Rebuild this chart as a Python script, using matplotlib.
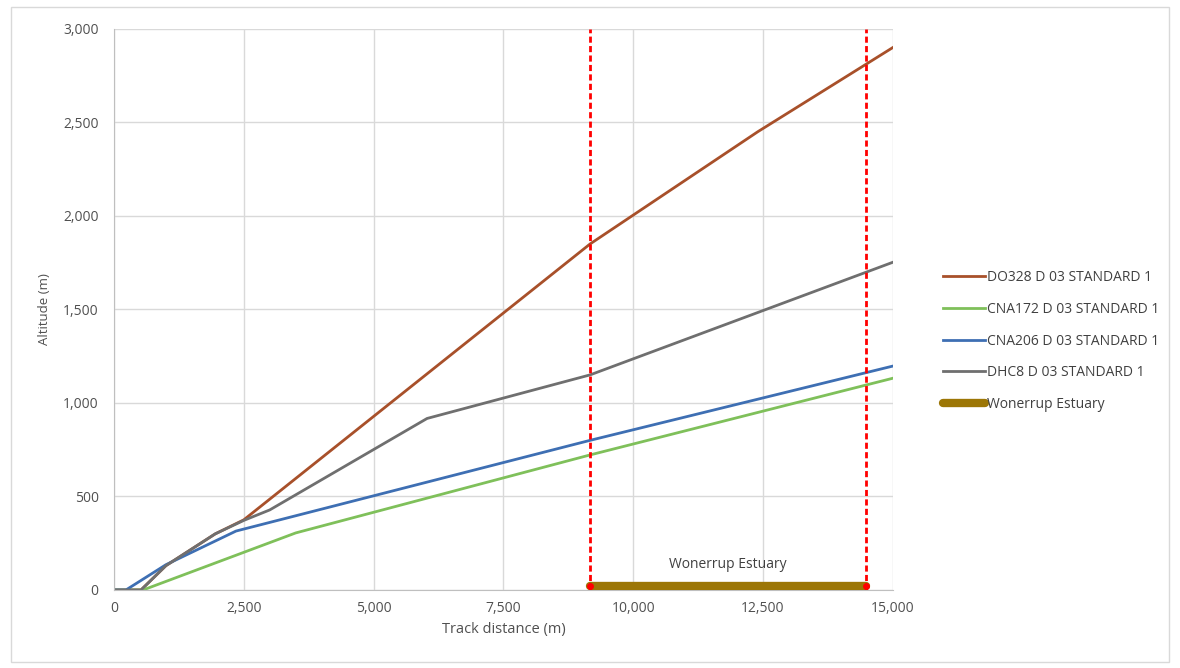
import matplotlib.pyplot as plt

plt.rcParams['font.family'] = ['Open Sans', 'DejaVu Sans']

# Climb profiles: track distance (m) vs altitude (m)
do328_x = [0, 520, 1000, 1950, 2500, 9170, 12400, 15000]
do328_y = [0, 0, 130, 300, 375, 1850, 2450, 2900]

cna172_x = [0, 560, 3500, 9170, 15000]
cna172_y = [0, 0, 305, 722, 1132]

cna206_x = [0, 230, 1000, 2350, 9170, 15000]
cna206_y = [0, 0, 135, 315, 800, 1197]

dhc8_x = [0, 520, 1000, 1950, 2500, 3000, 6030, 9170, 15000]
dhc8_y = [0, 0, 130, 300, 372, 428, 917, 1150, 1752]

# Estuary crossing along the track
estuary_x = [9170, 14480]
estuary_y = [20, 20]
estuary_label = 'Wonerrup Estuary'

xticks = [0, 2500, 5000, 7500, 10000, 12500, 15000]
yticks = [0, 500, 1000, 1500, 2000, 2500, 3000]

fig = plt.figure(figsize=(11.8, 6.68), dpi=100)
ax = fig.add_axes([0.0966, 0.1168, 0.66, 0.84])

# outer chart border
fig.patches.append(plt.Rectangle((0.009, 0.009), 0.982, 0.98, transform=fig.transFigure,
                                 fill=False, edgecolor='#d9d9d9', lw=1))

ax.plot(do328_x, do328_y, color='#a8502a', lw=2, label='DO328 D 03 STANDARD 1')
ax.plot(cna172_x, cna172_y, color='#7fc05a', lw=2, label='CNA172 D 03 STANDARD 1')
ax.plot(cna206_x, cna206_y, color='#3e6fb3', lw=2, label='CNA206 D 03 STANDARD 1')
ax.plot(dhc8_x, dhc8_y, color='#6f6f6f', lw=2, label='DHC8 D 03 STANDARD 1')
ax.plot(estuary_x, estuary_y, color='#9c7606', lw=6, solid_capstyle='round',
        label=estuary_label, zorder=4)

for x in estuary_x:
    ax.plot([x, x], [0, 3000], color='#ff0000', lw=2, ls=(0, (2.2, 1.2)), zorder=5)
    ax.plot(x, estuary_y[0], 'o', color='#ff0000', ms=4, zorder=6)

ax.text(sum(estuary_x) / 2, 135, estuary_label, ha='center', va='center',
        fontsize=10, color='#404040')

ax.set_xlim(0, 15000)
ax.set_ylim(0, 3000)
ax.set_xticks(xticks)
ax.set_yticks(yticks)
ax.set_xticklabels([f'{v:,}' for v in xticks])
ax.set_yticklabels([f'{v:,}' for v in yticks])
ax.tick_params(length=0, labelsize=10, colors='#505050')
ax.tick_params(axis='x', pad=8)
ax.tick_params(axis='y', pad=11)
ax.grid(color='#d9d9d9', lw=1)
ax.set_axisbelow(True)
for s in ['top', 'right']:
    ax.spines[s].set_visible(False)
for s in ['left', 'bottom']:
    ax.spines[s].set_color('#bfbfbf')

ax.set_xlabel('Track distance (m)', fontsize=10.5, color='#505050', labelpad=4)
ax.set_ylabel('Altitude (m)', fontsize=9.5, color='#505050', labelpad=9)

leg = ax.legend(loc='center left', bbox_to_anchor=(0.7885, 0.4895), bbox_transform=fig.transFigure,
                frameon=False, fontsize=10, handlelength=3.0, handletextpad=0.15,
                labelspacing=1.2)
for t in leg.get_texts():
    t.set_color('#404040')

fig.savefig('out.png', dpi=100)
